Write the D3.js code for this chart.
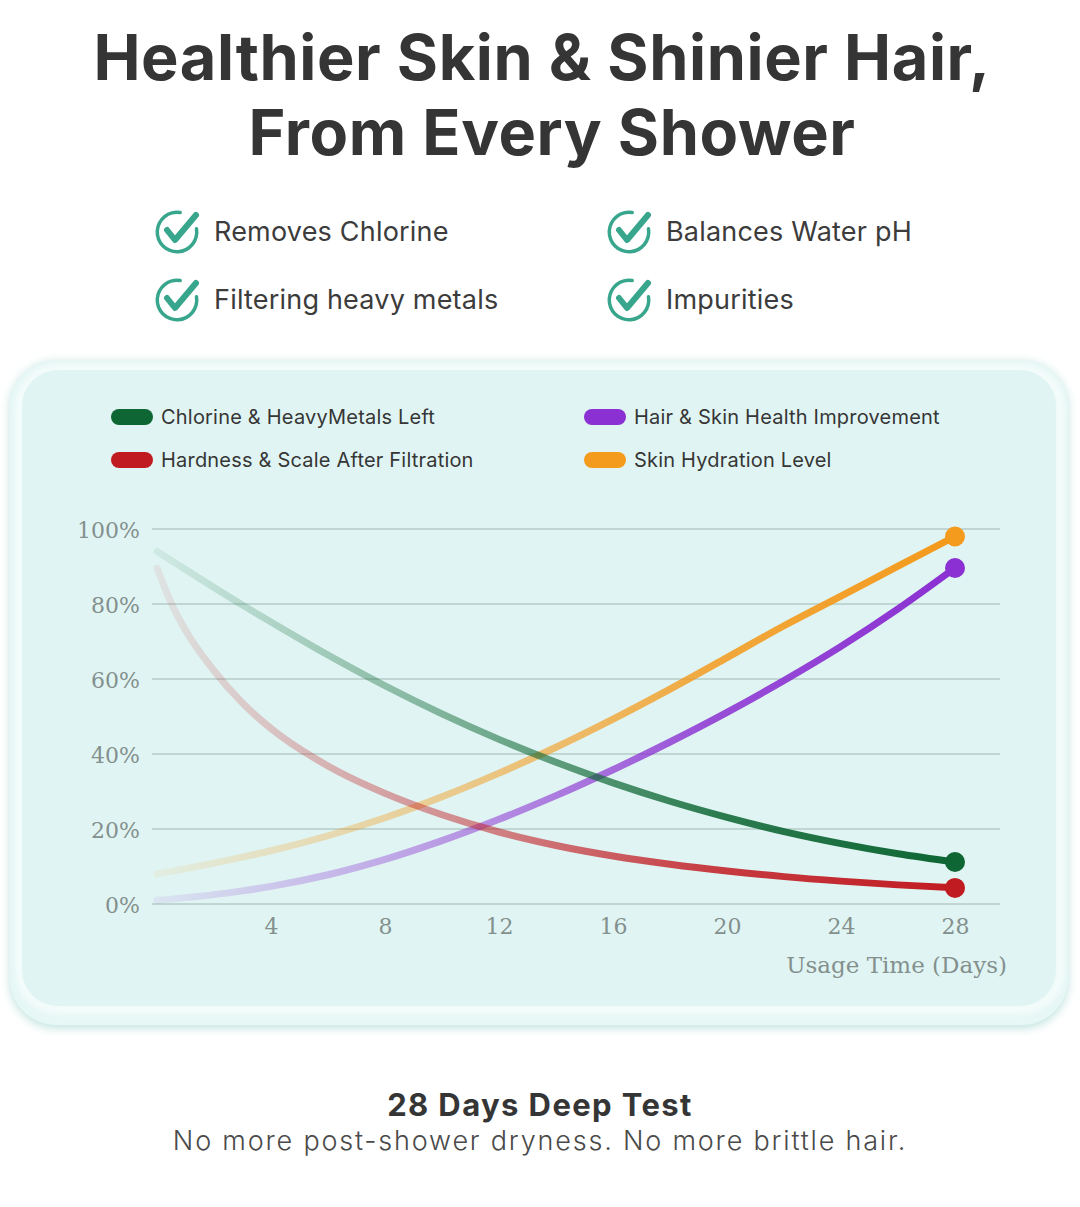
<!DOCTYPE html>
<html>
<head>
<meta charset="utf-8">
<script src="https://cdn.jsdelivr.net/npm/d3@7"></script>
<style>
  body { margin: 0; background: #ffffff; }
  svg { display: block; }
  .sans { font-family: Inter, Lato, "Noto Sans", sans-serif; }
  .serif { font-family: "DejaVu Serif", "Liberation Serif", serif; }
</style>
</head>
<body>
<svg id="chart" width="1080" height="1207"></svg>
<script>
// chart values
var days = [0, 0.5, 1, 2, 3, 4, 6, 8, 10, 12, 14, 16, 18, 20, 22, 24, 26, 28];
var chlorineLeft = [94, 91.6, 89.2, 84.4, 79.7, 75.2, 66.4, 58.2, 50.7, 43.9, 37.8, 32.3, 27.4, 23.1, 19.3, 16.1, 13.4, 11.2];
var hardnessLeft = [89.6, 80.2, 73, 62.2, 53.6, 46.8, 36.8, 29.5, 23.8, 19.2, 15.6, 12.8, 10.6, 8.8, 7.3, 6.1, 5.1, 4.3];
var hairSkin = [1, 1.3, 1.7, 2.5, 3.5, 4.7, 7.8, 11.9, 16.9, 22.6, 28.9, 35.8, 43.2, 51.1, 59.6, 68.7, 78.7, 89.6];
var hydration = [8, 8.7, 9.4, 10.9, 12.5, 14.2, 18.2, 23, 28.6, 34.9, 41.8, 49.3, 57.3, 65.7, 74.2, 82.1, 90.1, 98];

var xTicks = [4, 8, 12, 16, 20, 24, 28];
var yTicks = [0, 20, 40, 60, 80, 100];

var features = [
  "Removes Chlorine", "Balances Water pH",
  "Filtering heavy metals", "Impurities"
];

var series = [
  {name: "Chlorine & HeavyMetals Left", values: chlorineLeft, color: "#0d6633"},
  {name: "Hair & Skin Health Improvement", values: hairSkin, color: "#8b30d2"},
  {name: "Hardness & Scale After Filtration", values: hardnessLeft, color: "#c11b22"},
  {name: "Skin Hydration Level", values: hydration, color: "#f49a1c"}
];

var svg = d3.select("#chart");
var defs = svg.append("defs");

// title
var title = svg.append("text")
  .attr("class", "sans")
  .attr("text-anchor", "middle")
  .attr("fill", "#353535")
  .attr("font-weight", 700)
  .attr("font-size", 63)
  .attr("letter-spacing", 0.6);
title.append("tspan").attr("x", 542).attr("y", 80).text("Healthier Skin & Shinier Hair,");
title.append("tspan").attr("x", 552).attr("y", 155).text("From Every Shower");

// check list
var checkIcon = function(g){
  var arc = d3.arc()
    .innerRadius(18)
    .outerRadius(21.5)
    .startAngle(Math.PI * 0.42)
    .endAngle(Math.PI * 2.08)
    .cornerRadius(2);
  g.append("path").attr("d", arc()).attr("fill", "#38a68c");
  g.append("path")
    .attr("d", "M-10,-2 L-2,8 L19,-17")
    .attr("fill", "none")
    .attr("stroke", "#38a68c")
    .attr("stroke-width", 6)
    .attr("stroke-linecap", "round")
    .attr("stroke-linejoin", "round");
}

var feat = svg.append("g").selectAll("g")
  .data(features)
  .enter()
  .append("g")
  .attr("transform", function(d, i){
    var x = i % 2 == 0 ? 177 : 629;
    var y = i < 2 ? 232 : 300;
    return "translate(" + x + "," + y + ")";
  });
feat.each(function(){ checkIcon(d3.select(this)); });
feat.append("text")
  .attr("class", "sans")
  .attr("x", 37)
  .attr("y", 9)
  .attr("font-size", 27)
  .attr("letter-spacing", 0.2)
  .attr("fill", "#3c3c3c")
  .text(function(d){ return d; });

// card
var shadow = defs.append("filter").attr("id", "shadow")
  .attr("x", "-5%").attr("y", "-5%").attr("width", "110%").attr("height", "115%");
shadow.append("feGaussianBlur").attr("stdDeviation", 5);

var soft = defs.append("filter").attr("id", "soft");
soft.append("feGaussianBlur").attr("stdDeviation", 3);

svg.append("rect")
  .attr("x", 10).attr("y", 362).attr("width", 1058).attr("height", 666)
  .attr("rx", 46)
  .attr("fill", "#bfe3dd")
  .attr("filter", "url(#shadow)");
svg.append("rect")
  .attr("x", 10).attr("y", 361).attr("width", 1058).attr("height", 664)
  .attr("rx", 46)
  .attr("fill", "#e6f7f5");
svg.append("rect")
  .attr("x", 20).attr("y", 369).attr("width", 1040).attr("height", 640)
  .attr("rx", 38)
  .attr("fill", "none")
  .attr("stroke", "#f6fdfc")
  .attr("stroke-width", 8)
  .attr("filter", "url(#soft)");
svg.append("rect")
  .attr("x", 22).attr("y", 370).attr("width", 1034).attr("height", 636)
  .attr("rx", 36)
  .attr("fill", "#e0f5f3");

// legend
var legend = svg.append("g").selectAll("g")
  .data(series)
  .enter()
  .append("g")
  .attr("transform", function(d, i){
    var x = i % 2 == 0 ? 111 : 584;
    var y = i < 2 ? 417 : 460;
    return "translate(" + x + "," + y + ")";
  });
legend.append("rect")
  .attr("x", 0).attr("y", -8)
  .attr("width", 42).attr("height", 16)
  .attr("rx", 8)
  .attr("fill", function(d){ return d.color; });
legend.append("text")
  .attr("class", "sans")
  .attr("x", 50)
  .attr("y", 7)
  .attr("font-size", 20)
  .attr("letter-spacing", 0.2)
  .attr("fill", "#363636")
  .text(function(d){ return d.name; });

// scales
var x = d3.scaleLinear().domain([0, 28]).range([157, 955]);
var y = d3.scaleLinear().domain([0, 100]).range([904, 529]);

// grid
svg.append("g").selectAll("line")
  .data(yTicks)
  .enter()
  .append("line")
  .attr("x1", 152).attr("x2", 1000)
  .attr("y1", function(d){ return y(d); })
  .attr("y2", function(d){ return y(d); })
  .attr("stroke", "#b4cbc8")
  .attr("stroke-width", 1.5);

// axes
var yAxis = d3.axisLeft(y)
  .tickValues(yTicks)
  .tickSize(0)
  .tickPadding(0)
  .tickFormat(function(d){ return d + "%"; });
svg.append("g")
  .attr("transform", "translate(140,1)")
  .call(yAxis)
  .call(function(g){ g.select(".domain").remove(); })
  .selectAll("text")
  .attr("class", "serif")
  .attr("font-size", 22)
  .attr("fill", "#84908e");

var xAxis = d3.axisBottom(x)
  .tickValues(xTicks)
  .tickSize(0)
  .tickPadding(0);
svg.append("g")
  .attr("transform", "translate(0,918)")
  .call(xAxis)
  .call(function(g){ g.select(".domain").remove(); })
  .selectAll("text")
  .attr("class", "serif")
  .attr("font-size", 22)
  .attr("fill", "#84908e");

svg.append("text")
  .attr("class", "serif")
  .attr("x", 1007)
  .attr("y", 973)
  .attr("text-anchor", "end")
  .attr("font-size", 23)
  .attr("fill", "#84908e")
  .text("Usage Time (Days)");

// lines, fading in from the left
var line = d3.line()
  .x(function(d){ return x(d[0]); })
  .y(function(d){ return y(d[1]); })
  .curve(d3.curveMonotoneX);

var drawOrder = [series[3], series[1], series[2], series[0]];

drawOrder.forEach(function(s, i){
  var id = "fade" + i;
  var grad = defs.append("linearGradient")
    .attr("id", id)
    .attr("gradientUnits", "userSpaceOnUse")
    .attr("x1", x(0)).attr("x2", x(28))
    .attr("y1", 0).attr("y2", 0);
  grad.append("stop").attr("offset", 0).attr("stop-color", s.color).attr("stop-opacity", 0.08);
  grad.append("stop").attr("offset", 0.35).attr("stop-color", s.color).attr("stop-opacity", 0.45);
  grad.append("stop").attr("offset", 0.7).attr("stop-color", s.color).attr("stop-opacity", 0.85);
  grad.append("stop").attr("offset", 1).attr("stop-color", s.color).attr("stop-opacity", 1);

  var pts = days.map(function(d, j){ return [d, s.values[j]]; });
  svg.append("path")
    .datum(pts)
    .attr("d", line)
    .attr("fill", "none")
    .attr("stroke", "url(#" + id + ")")
    .attr("stroke-width", 7)
    .attr("stroke-linecap", "round");
});

svg.append("g").selectAll("circle")
  .data(series)
  .enter()
  .append("circle")
  .attr("cx", x(28))
  .attr("cy", function(d){ return y(d.values[d.values.length - 1]); })
  .attr("r", 10)
  .attr("fill", function(d){ return d.color; });

// footer
svg.append("text")
  .attr("class", "sans")
  .attr("x", 540)
  .attr("y", 1116)
  .attr("text-anchor", "middle")
  .attr("font-size", 31)
  .attr("font-weight", 700)
  .attr("letter-spacing", 1.4)
  .attr("fill", "#353535")
  .text("28 Days Deep Test");
svg.append("text")
  .attr("class", "sans")
  .attr("x", 540)
  .attr("y", 1150)
  .attr("text-anchor", "middle")
  .attr("font-size", 27)
  .attr("font-weight", 300)
  .attr("letter-spacing", 1.8)
  .attr("fill", "#4a4a4a")
  .text("No more post-shower dryness. No more brittle hair.");
</script>
</body>
</html>
